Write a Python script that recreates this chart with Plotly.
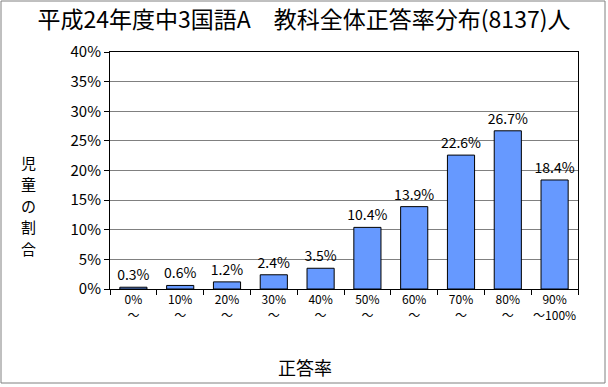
import plotly.graph_objects as go

categories = ["0%<br>～", "10%<br>～", "20%<br>～", "30%<br>～", "40%<br>～",
              "50%<br>～", "60%<br>～", "70%<br>～", "80%<br>～", "90%<br>～100%"]
values = [0.3, 0.6, 1.2, 2.4, 3.5, 10.4, 13.9, 22.6, 26.7, 18.4]
ytick_vals = [0, 5, 10, 15, 20, 25, 30, 35, 40]
ytick_text = [f"{v}%" for v in ytick_vals]
ylabel_chars = ["児", "童", "の", "割", "合"]

FONT = "Noto Sans CJK JP"
W, H = 608, 387
L, R, T, B = 110, 30, 52, 98
PW, PH = W - L - R, H - T - B

fig = go.Figure()
fig.add_trace(go.Bar(
    x=categories, y=values,
    marker=dict(color="#6699FF", line=dict(color="black", width=1)),
    text=[f"{v}%" for v in values], textposition="outside",
    textfont=dict(family=FONT, size=14, color="black"),
    constraintext="none", hoverinfo="skip",
    cliponaxis=False, width=0.58,
))

fig.update_layout(
    width=W, height=H,
    margin=dict(l=L, r=R, t=T, b=B, autoexpand=False),
    paper_bgcolor="white", plot_bgcolor="white",
    font=dict(family=FONT, color="black"),
    title=dict(text="平成24年度中3国語A　教科全体正答率分布(8137)人",
               x=0.5, xanchor="center", yref="container", y=1 - 20 / H, yanchor="middle",
               font=dict(family=FONT, size=23, color="black")),
    showlegend=False,
)
fig.add_shape(type="rect", xref="paper", yref="paper",
              x0=-(L - 1) / PW, x1=1 + (R - 3) / PW,
              y0=-(B - 4) / PH, y1=1 + (T - 1) / PH,
              line=dict(color="#808080", width=1))

fig.update_xaxes(
    automargin=False,
    tickson="boundaries", ticks="outside", ticklen=5, tickcolor="black",
    tickangle=0,
    showline=True, linecolor="black", linewidth=1, mirror=True,
    tickfont=dict(family=FONT, size=12, color="black"),
)
fig.update_yaxes(
    automargin=False,
    range=[0, 40], tickvals=ytick_vals, ticktext=ytick_text,
    ticks="outside", ticklen=5, tickcolor="black",
    showline=True, linecolor="black", linewidth=1, mirror=True,
    showgrid=True, gridcolor="#808080", gridwidth=1,
    tickfont=dict(family=FONT, size=15, color="black"),
)

for i, ch in enumerate(ylabel_chars):
    ypix = 162 + i * 21.5
    fig.add_annotation(text=ch, xref="paper", yref="paper",
                       x=-(L - 28) / PW, y=(H - B - ypix) / PH,
                       xanchor="center", yanchor="middle", showarrow=False,
                       font=dict(family=FONT, size=15, color="black"))
fig.add_annotation(text="正答率", xref="paper", yref="paper",
                   x=(305 - L) / PW, y=-(367 - (H - B)) / PH, xanchor="center", yanchor="middle",
                   showarrow=False,
                   font=dict(family=FONT, size=18, color="black"))

fig.write_html("out.html", config={"displayModeBar": False, "staticPlot": True},
               post_script="document.body.style.margin='0';")
